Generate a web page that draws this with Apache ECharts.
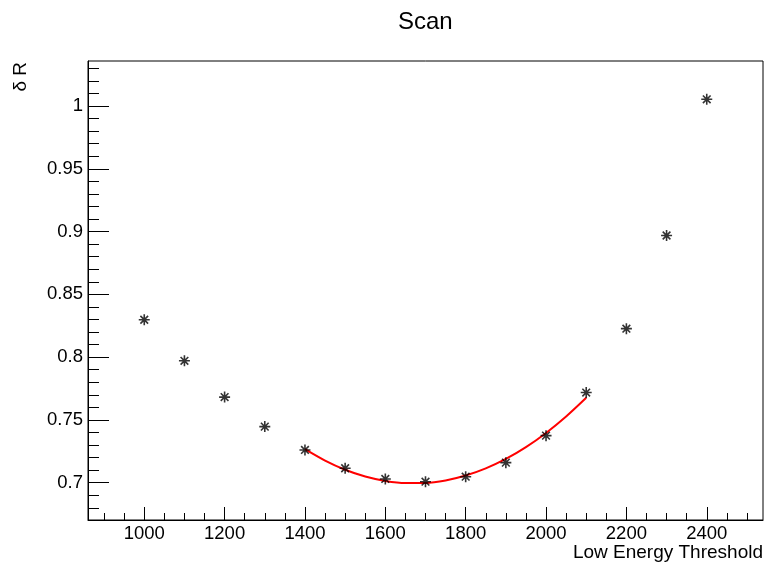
<!DOCTYPE html>
<html>
<head>
<meta charset="utf-8">
<script src="https://cdn.jsdelivr.net/npm/echarts@6/dist/echarts.min.js"></script>
<style>
html,body{margin:0;padding:0;background:#fff;}
#chart{width:766px;height:564px;}
</style>
</head>
<body>
<div id="chart"></div>
<script>
// Data
const thresholds = [1000, 1100, 1200, 1300, 1400, 1500, 1600, 1700, 1800, 1900, 2000, 2100, 2200, 2300, 2400];
const deltaR = [0.8298, 0.7971, 0.7682, 0.7447, 0.7261, 0.7115, 0.7030, 0.7008, 0.7048, 0.7160, 0.7375, 0.7718, 0.8227, 0.8969, 1.0054];

// Fit curve (red)
const fitX = [1400, 1450, 1500, 1550, 1600, 1650, 1700, 1750, 1800, 1850, 1900, 1950, 2000, 2050, 2100];
const fitY = [0.7267, 0.7176, 0.7103, 0.7049, 0.7014, 0.6997, 0.6998, 0.7018, 0.7057, 0.7114, 0.7189, 0.7283, 0.7396, 0.7527, 0.7676];

// Axis ticks
const xMajorTicks = [1000, 1200, 1400, 1600, 1800, 2000, 2200, 2400];
const xMinorTicks = [900, 950, 1050, 1100, 1150, 1250, 1300, 1350, 1450, 1500, 1550, 1650, 1700, 1750, 1850, 1900, 1950, 2050, 2100, 2150, 2250, 2300, 2350, 2450, 2500];
const yMajorTicks = [0.7, 0.75, 0.8, 0.85, 0.9, 0.95, 1];
const yMinorTicks = [0.68, 0.69, 0.71, 0.72, 0.73, 0.74, 0.76, 0.77, 0.78, 0.79, 0.81, 0.82, 0.83, 0.84, 0.86, 0.87, 0.88, 0.89, 0.91, 0.92, 0.93, 0.94, 0.96, 0.97, 0.98, 0.99, 1.01, 1.02, 1.03];

const xRange = [860, 2540];
const yRange = [0.6703, 1.0359];

const FONT = 'Liberation Sans';
const chart = echarts.init(document.getElementById('chart'), null, {renderer: 'canvas'});

const option = {
  backgroundColor: '#fff',
  animation: false,
  title: {
    text: 'Scan',
    left: 398, top: 10, padding: 0,
    textStyle: {fontSize: 24, fontWeight: 'normal', fontFamily: FONT, color: '#000'}
  },
  grid: {
    left: 88, right: 3, top: 61, bottom: 44,
    show: true, borderColor: '#000', borderWidth: 1, backgroundColor: 'transparent'
  },
  graphic: [{
    type: 'text',
    x: 21, y: 62,
    rotation: Math.PI / 2,
    style: {text: 'δ R', font: '19px "Liberation Sans"', textAlign: 'right', textVerticalAlign: 'middle', fill: '#000'}
  }],
  xAxis: [{
    type: 'value', min: xRange[0], max: xRange[1], position: 'bottom',
    name: 'Low Energy Threshold', nameLocation: 'end', nameGap: 0,
    nameTextStyle: {fontSize: 19, fontFamily: FONT, color: '#000', align: 'right', verticalAlign: 'top', padding: [23, 0, 0, 0]},
    axisLine: {show: true, lineStyle: {color: '#000', width: 1}},
    axisTick: {show: true, inside: true, length: 13, customValues: xMajorTicks, lineStyle: {color: '#000', width: 1}},
    axisLabel: {show: true, customValues: xMajorTicks, margin: 4, fontSize: 18.5, fontFamily: FONT, color: '#000',
      formatter: v => String(v)},
    splitLine: {show: false}
  }, {
    type: 'value', min: xRange[0], max: xRange[1], position: 'bottom', offset: 0,
    axisLine: {show: false},
    axisTick: {show: true, inside: true, length: 7, customValues: xMinorTicks, lineStyle: {color: '#000', width: 1}},
    axisLabel: {show: false},
    splitLine: {show: false}
  }],
  yAxis: [{
    type: 'value', min: yRange[0], max: yRange[1], position: 'left',
    axisLine: {show: true, lineStyle: {color: '#000', width: 1}},
    axisTick: {show: true, inside: true, length: 21, customValues: yMajorTicks, lineStyle: {color: '#000', width: 1}},
    axisLabel: {show: true, customValues: yMajorTicks, margin: 5, fontSize: 18.5, fontFamily: FONT, color: '#000',
      formatter: v => String(v)},
    splitLine: {show: false}
  }, {
    type: 'value', min: yRange[0], max: yRange[1], position: 'left', offset: 0,
    axisLine: {show: false},
    axisTick: {show: true, inside: true, length: 11, customValues: yMinorTicks, lineStyle: {color: '#000', width: 1}},
    axisLabel: {show: false},
    splitLine: {show: false}
  }],
  series: [{
    name: 'fit',
    type: 'line',
    xAxisIndex: 0, yAxisIndex: 0,
    data: fitX.map((x, i) => [x, fitY[i]]),
    smooth: 0.3,
    showSymbol: false,
    lineStyle: {color: '#ff0000', width: 2},
    z: 2
  }, {
    name: 'scan',
    type: 'scatter',
    xAxisIndex: 0, yAxisIndex: 0,
    data: thresholds.map((x, i) => [x, deltaR[i]]),
    symbol: 'path://M0 5L10 5M5 0L5 10M1.5 1.5L8.5 8.5M8.5 1.5L1.5 8.5',
    symbolSize: 11,
    itemStyle: {color: 'none', borderColor: '#000', borderWidth: 1.6},
    z: 3
  }]
};
chart.setOption(option);
</script>
</body>
</html>
